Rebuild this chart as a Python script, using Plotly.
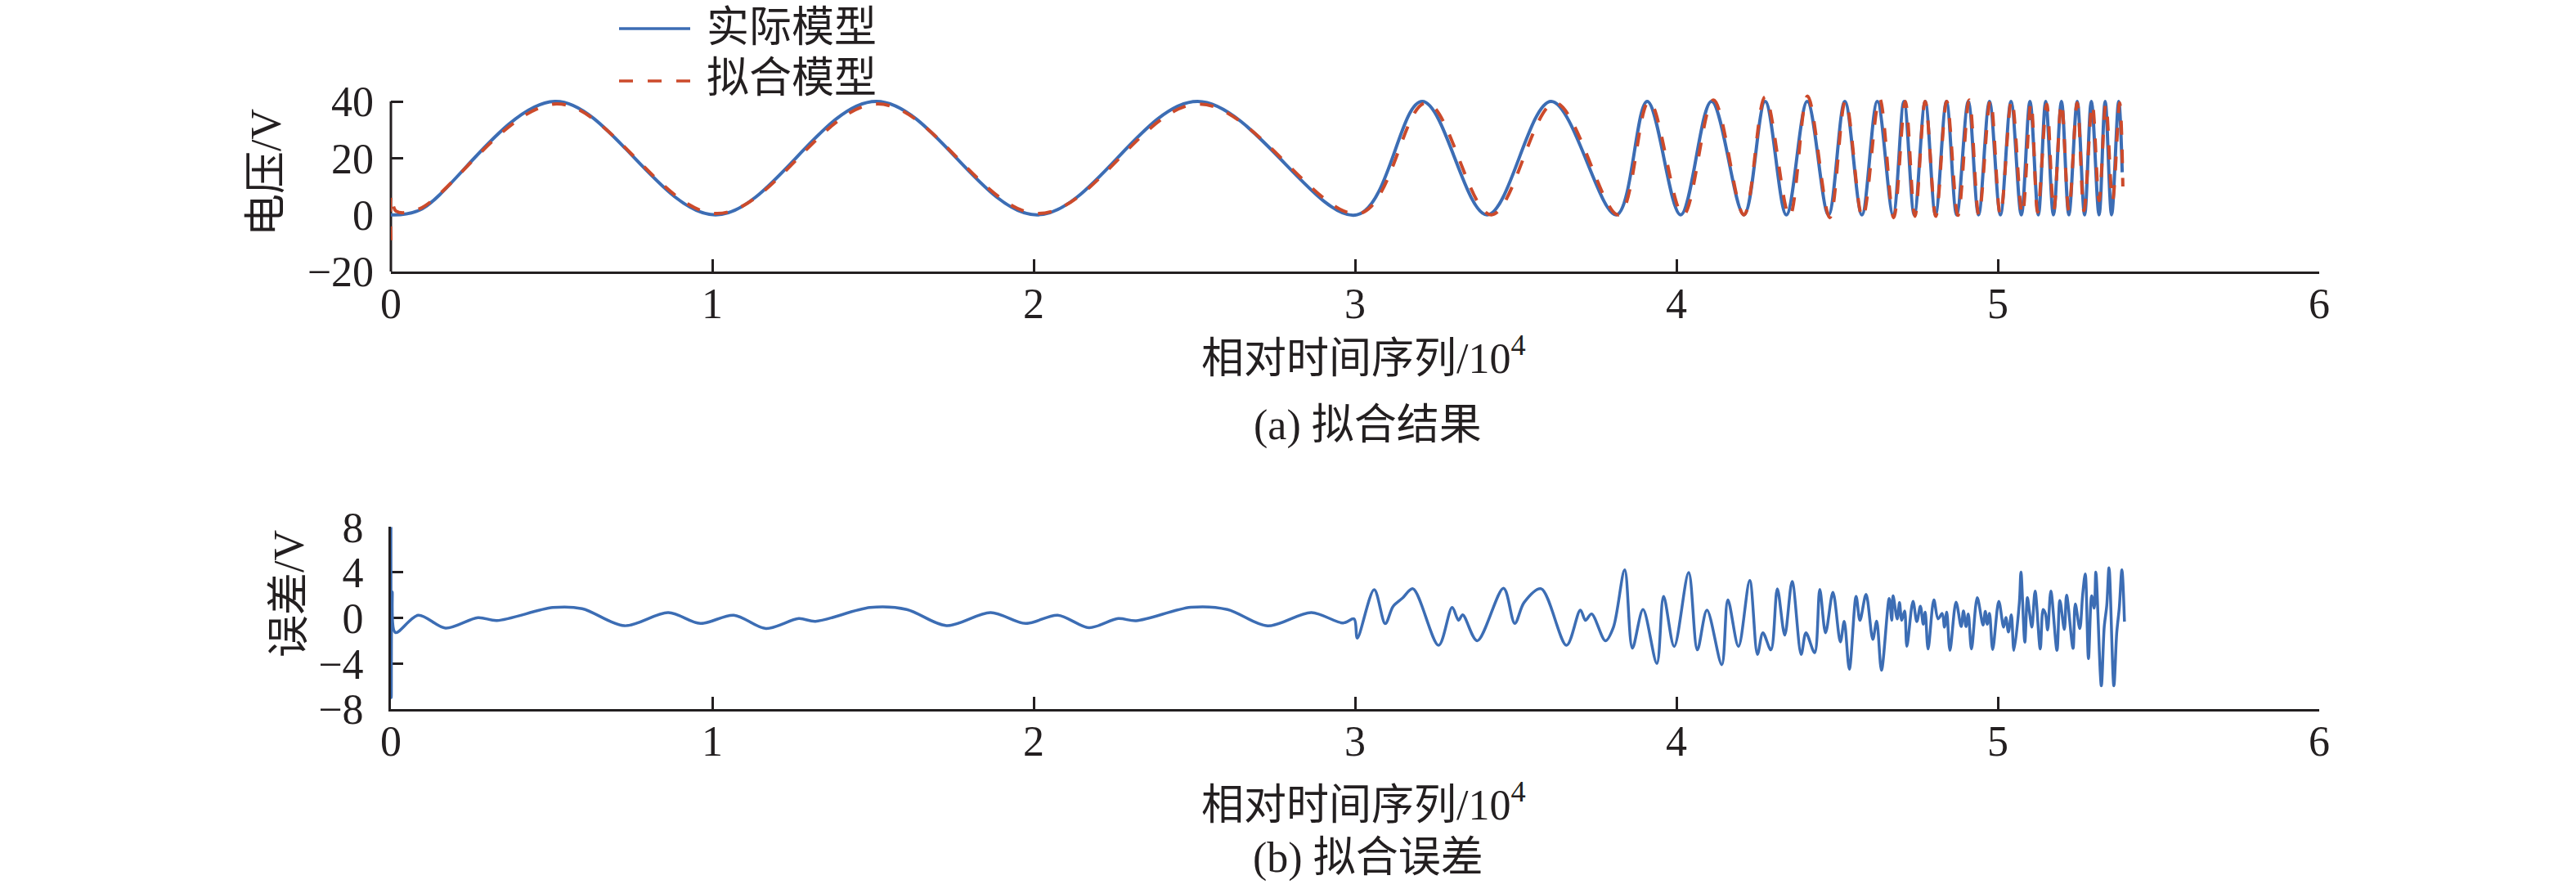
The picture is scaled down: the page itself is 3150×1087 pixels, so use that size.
import plotly.graph_objects as go
from plotly.subplots import make_subplots

# ---------------- data (x in units of 10^4 samples) ----------------
actual_x = [0, 0.09, 0.51, 1.01, 1.51, 2.01, 2.51, 3.006, 3.209, 3.411, 3.610, 3.813,
            3.909, 4.013, 4.109, 4.210, 4.276, 4.342, 4.407, 4.473, 4.524, 4.577,
            4.625, 4.674, 4.708, 4.740, 4.774, 4.806, 4.840, 4.872, 4.908, 4.940,
            4.974, 5.008, 5.041, 5.073, 5.100, 5.126, 5.149, 5.173, 5.198, 5.221,
            5.247, 5.270, 5.291, 5.315, 5.334, 5.354, 5.376, 5.387]
actual_y = [0, 1.7, 40, 0, 40, 0, 40, 0, 40, 0, 40, 0,
            40, 0, 40, 0, 40, 0, 40, 0, 40, 0,
            40, 0, 40, 0, 40, 0, 40, 0, 40, 0,
            40, 0, 40, 0, 40, 0, 40, 0, 40, 0,
            40, 0, 40, 0, 40, 0, 40, 15]

fitted_x = [0, 0.0015, 0.016, 0.09, 0.515, 1.015, 1.515, 2.015, 2.515, 3.015, 3.222,
            3.424, 3.622, 3.820, 3.915, 4.021, 4.115, 4.210, 4.276, 4.352, 4.408,
            4.477, 4.526, 4.579, 4.632, 4.676, 4.712, 4.742, 4.774, 4.807, 4.841,
            4.876, 4.911, 4.941, 4.977, 5.008, 5.043, 5.076, 5.103, 5.124, 5.152,
            5.174, 5.198, 5.221, 5.247, 5.268, 5.294, 5.315, 5.336, 5.357, 5.379,
            5.389]
fitted_y = [-9, 7, 1.3, 2.2, 39.1, 0.45, 39.1, 0.45, 39.1, 0.5, 39.5,
            0, 39.5, 0, 40, 0, 40.5, 0, 41.6, -0.5, 41.9,
            -1, 40.2, -1, 41, -1, 40, -0.5, 40, -0.5, 40,
            -0.2, 40.5, 0, 40.5, 0, 40.5, 0, 39.5, 1, 39,
            1.5, 39.5, 1.5, 39.5, 1.5, 39, 5, 39, 5, 39.5,
            10]

error_x = [0, 0.0012, 0.004, 0.014, 0.085, 0.17, 0.271, 0.33, 0.504, 0.595,
           0.727, 0.863, 0.963, 1.067, 1.167, 1.269, 1.321, 1.491, 1.605, 1.729,
           1.866, 1.975, 2.075, 2.172, 2.263, 2.319, 2.489, 2.603, 2.728, 2.864,
           2.9625, 2.997, 3.007, 3.0595, 3.094, 3.118, 3.147, 3.180, 3.260, 3.302,
           3.322, 3.335, 3.380, 3.462, 3.497, 3.526, 3.579, 3.658, 3.701, 3.717,
           3.736, 3.779, 3.804, 3.839, 3.863, 3.896, 3.939, 3.960, 3.993, 4.038,
           4.065, 4.095, 4.141, 4.160, 4.193, 4.228, 4.252, 4.269, 4.294, 4.314,
           4.337, 4.360, 4.388, 4.403, 4.430, 4.446, 4.464, 4.487, 4.510, 4.522,
           4.538, 4.559, 4.571, 4.590, 4.611, 4.623, 4.638, 4.662, 4.670, 4.674,
           4.687, 4.694, 4.701, 4.710, 4.717, 4.736, 4.748, 4.759, 4.768, 4.774,
           4.783, 4.801, 4.814, 4.827, 4.834, 4.841, 4.851, 4.870, 4.886, 4.893,
           4.901, 4.908, 4.918, 4.936, 4.954, 4.961, 4.967, 4.974, 4.984, 5.003,
           5.018, 5.025, 5.033, 5.042, 5.050, 5.067, 5.072, 5.084, 5.092, 5.099,
           5.106, 5.116, 5.132, 5.141, 5.148, 5.155, 5.165, 5.184, 5.193, 5.207,
           5.214, 5.234, 5.241, 5.255, 5.264, 5.272, 5.282, 5.292, 5.300, 5.305,
           5.322, 5.331, 5.339, 5.346, 5.361, 5.370, 5.378, 5.386, 5.394]
error_y = [8, -7, 2.3, -1.27, 0.25, -0.88, 0.03, -0.22, 0.92, 0.82,
           -0.68, 0.48, -0.48, 0.25, -0.92, -0.05, -0.29, 0.92, 0.75, -0.67,
           0.48, -0.48, 0.25, -0.85, -0.05, -0.24, 0.94, 0.75, -0.69, 0.48,
           -0.44, -0.08, -1.76, 2.49, -0.5, 1.0, 1.73, 2.57, -2.4, 0.93,
           -0.2, 0.28, -2.0, 2.62, -0.47, 1.37, 2.57, -2.4, 0.7, -0.2,
           0.36, -2.0, -0.8, 4.23, -2.64, 0.74, -4.0, 1.9, -2.5, 3.99,
           -2.8, 0.7, -4.1, 1.6, -2.5, 3.3, -3.2, -1.3, -2.8, 2.57,
           -1.5, 3.2, -3.2, -1.3, -3.05, 2.5, -1.3, 2.25, -2.1, -0.3,
           -4.5, 1.9, -0.2, 2.07, -1.88, -0.28, -4.59, 1.71, -0.2, 1.95,
           -0.08, 1.35, -0.2, 0.63, -2.48, 1.47, -0.32, 1.04, -0.56, 0.51,
           -2.72, 1.59, -0.08, 0.4, -0.8, 0.51, -2.84, 1.4, -0.75, 0.63,
           -0.75, 0.35, -2.72, 1.78, -0.61, 0.59, -0.56, 0.4, -2.77, 1.47,
           -0.8, 0.04, -1.23, 0.28, -2.84, 1.35, 4.03, -2.12, 1.78, 0.4,
           -0.8, 2.36, -2.72, 0.75, 0.4, -1.04, 2.36, -2.84, 1.54, -1.0,
           2.0, -2.67, 1.23, -0.92, 2.07, 3.87, -3.56, 1.95, 0.87, 4.03,
           -5.95, -0.8, 1.11, 4.42, -5.95, -1.28, 0.92, 4.23, -0.32]

x_ticks = [0, 1, 2, 3, 4, 5, 6]
v_ticks = [-20, 0, 20, 40]
e_ticks = [-8, -4, 0, 4, 8]

assert len(actual_x) == len(actual_y)
assert len(fitted_x) == len(fitted_y)
assert len(error_x) == len(error_y)

# ---------------- styling ----------------
BLUE = "#3c6db4"
RED = "#cc4a2b"
INK = "#231f20"
FONT = "Liberation Serif, Noto Sans CJK SC, serif"
FS = 52

W, H = 3150, 1087
ML, MR, MT, MB = 478, 314, 115, 220
PW, PH = W - ML - MR, H - MT - MB


def px(xp):
    return (xp - ML) / PW


def py(yp):
    return (H - MB - yp) / PH


fig = make_subplots(rows=2, cols=1, vertical_spacing=0.0)

fig.add_trace(go.Scatter(x=actual_x, y=actual_y, mode="lines", name="实际模型",
                         line=dict(color=BLUE, width=4, shape="spline", smoothing=1.0),
                         showlegend=False), row=1, col=1)
fig.add_trace(go.Scatter(x=fitted_x, y=fitted_y, mode="lines", name="拟合模型",
                         line=dict(color=RED, width=4, dash="17px,18px",
                                   shape="spline", smoothing=1.0),
                         showlegend=False), row=1, col=1)
fig.add_trace(go.Scatter(x=error_x, y=error_y, mode="lines", name="误差",
                         line=dict(color=BLUE, width=3.5, shape="spline", smoothing=0.9),
                         showlegend=False), row=2, col=1)

axis_common = dict(showgrid=False, zeroline=False, ticks="inside", ticklen=15,
                   tickwidth=3, tickcolor=INK, linecolor=INK, linewidth=3,
                   tickfont=dict(family=FONT, size=FS, color=INK),
                   layer="below traces")

top_dom = [py(332), 1.0]
bot_dom = [0.0, py(644.3)]
v_top = 40 + (332 - MT - (332 - 124)) / ((332 - 124) / 60)

fig.update_layout(
    width=W, height=H, autosize=False,
    margin=dict(l=ML, r=MR, t=MT, b=MB, pad=0),
    paper_bgcolor="white", plot_bgcolor="white",
    font=dict(family=FONT, size=FS, color=INK),
    xaxis=dict(axis_common, range=[0, 6], tickvals=x_ticks, showline=True,
               ticklabelstandoff=-8, domain=[0, 1]),
    yaxis=dict(axis_common, range=[-20, v_top],
               tickvals=v_ticks, showline=False, ticklabelstandoff=20, domain=top_dom),
    xaxis2=dict(axis_common, range=[0, 6], tickvals=x_ticks, showline=True,
                ticklabelstandoff=-8, domain=[0, 1]),
    yaxis2=dict(axis_common, range=[-8, 8], tickvals=e_ticks, showline=True,
                ticklabelstandoff=20, domain=bot_dom),
)

# left axis line of the top panel (stops at 40 as in the reference)
fig.add_shape(type="line", xref="paper", yref="y", x0=0, x1=0, y0=-20, y1=40,
              line=dict(color=INK, width=3), layer="below")

# manual legend
fig.add_shape(type="line", xref="paper", yref="paper", x0=px(757), x1=px(844),
              y0=py(35), y1=py(35), line=dict(color=BLUE, width=3.5))
fig.add_shape(type="line", xref="paper", yref="paper", x0=px(757), x1=px(844),
              y0=py(99), y1=py(99), line=dict(color=RED, width=3.5, dash="17px,18px"))

ann = []
ann.append(dict(text="实际模型", x=px(862), y=py(33), xanchor="left", yanchor="middle"))
ann.append(dict(text="拟合模型", x=px(862), y=py(96), xanchor="left", yanchor="middle"))
ann.append(dict(text="相对时间序列/10<sup>4</sup>", x=px(1667), y=py(434),
                xanchor="center", yanchor="middle"))
ann.append(dict(text="(a) 拟合结果", x=px(1673), y=py(520), xanchor="center", yanchor="middle"))
ann.append(dict(text="相对时间序列/10<sup>4</sup>", x=px(1667), y=py(980),
                xanchor="center", yanchor="middle"))
ann.append(dict(text="(b) 拟合误差", x=px(1673), y=py(1049), xanchor="center", yanchor="middle"))
ann.append(dict(text="电压/V", x=px(326), y=py(211), textangle=-90,
                xanchor="center", yanchor="middle"))
ann.append(dict(text="误差/V", x=px(353), y=py(726), textangle=-90,
                xanchor="center", yanchor="middle"))
for a in ann:
    a.update(xref="paper", yref="paper", showarrow=False,
             font=dict(family=FONT, size=FS, color=INK))
fig.update_layout(annotations=ann)

fig.write_html("out.html", config={"displayModeBar": False},
               post_script="document.body.style.margin='0';")
